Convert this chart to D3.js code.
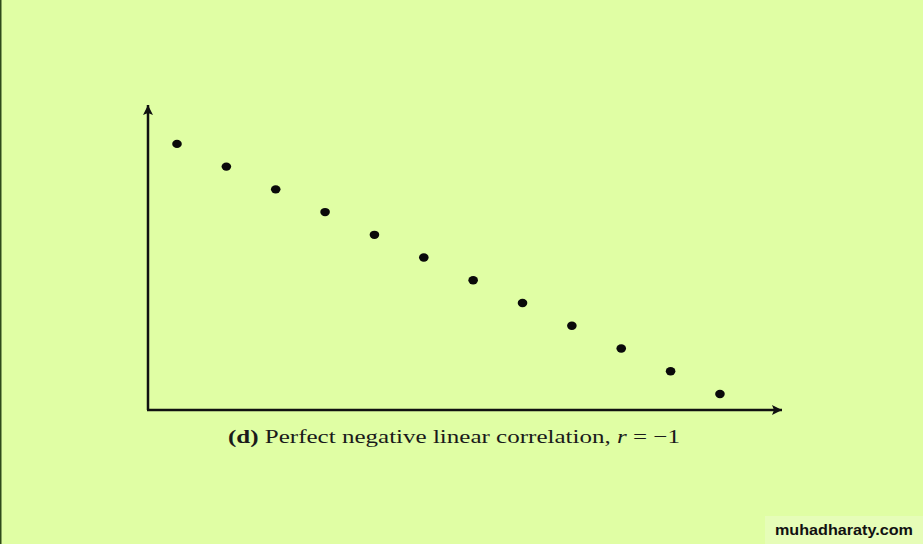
<!DOCTYPE html>
<html><head><meta charset="utf-8">
<script src="https://cdn.jsdelivr.net/npm/d3@7"></script>
<style>html,body{margin:0;padding:0;background:#e0fea4;overflow:hidden}</style>
</head><body>
<script>
const xValues = [1,2,3,4,5,6,7,8,9,10,11,12];
const yValues = [12,11,10,9,8,7,6,5,4,3,2,1];
const captionBold = "(d)";
const captionText = " Perfect negative linear correlation, ";
const watermark = "muhadharaty.com";

(function(){
const W = 923, H = 544;
const svg = d3.select("body").append("svg").attr("width", W).attr("height", H).style("display","block");
svg.append("rect").attr("width", W).attr("height", H).attr("fill", "#e0fea4");
svg.append("rect").attr("x",0).attr("y",0).attr("width",1.5).attr("height",H).attr("fill","#2f4a1a");

const pLeft = 148, pRight = 782, pBottom = 410, pTop = 105;
const x = d3.scaleLinear().domain([0.4125, 13.257]).range([pLeft, pRight]);
const y = d3.scaleLinear().domain([0.296, 13.71]).range([pBottom, pTop]);

const defs = svg.append("defs");
defs.append("marker").attr("id","arr").attr("viewBox","0 0 10 10").attr("refX",10).attr("refY",5)
  .attr("markerWidth",7).attr("markerHeight",4).attr("markerUnits","strokeWidth").attr("orient","auto")
  .append("path").attr("d","M0,0 L10,5 L0,10 L2,5 Z").attr("fill","#111");

svg.append("line").attr("x1", x.range()[0]).attr("y1", y.range()[0]).attr("x2", x.range()[0]).attr("y2", y.range()[1])
  .attr("stroke","#111").attr("stroke-width",2.5).attr("marker-end","url(#arr)");
svg.append("line").attr("x1", x.range()[0]-1).attr("y1", y.range()[0]).attr("x2", x.range()[1]).attr("y2", y.range()[0])
  .attr("stroke","#111").attr("stroke-width",2.5).attr("marker-end","url(#arr)");

svg.selectAll("ellipse.pt").data(xValues.map((v,i)=>({x:v,y:yValues[i]}))).enter()
  .append("ellipse").attr("class","pt")
  .attr("cx", d=>x(d.x)).attr("cy", d=>y(d.y)).attr("rx",4.8).attr("ry",4.2).attr("fill","#0a0a0a");

const cap = svg.append("text").attr("x", 228).attr("y", 443)
  .attr("font-family","'Liberation Serif', 'Times New Roman', serif").attr("font-size",19).attr("fill","#1a1a1a")
  .attr("textLength", 452).attr("lengthAdjust","spacingAndGlyphs");
cap.append("tspan").attr("font-weight","bold").text(captionBold);
cap.append("tspan").text(captionText);
cap.append("tspan").attr("font-style","italic").text("r");
cap.append("tspan").text(" = \u22121");

svg.append("rect").attr("x",765).attr("y",516).attr("width",158).attr("height",28).attr("fill","#e6fdb8");
svg.append("text").attr("x", 775).attr("y", 535).attr("font-family","'Liberation Sans', Arial, sans-serif")
  .attr("font-weight","bold").attr("font-size",15).attr("fill","#111")
  .attr("textLength", 138).attr("lengthAdjust","spacingAndGlyphs").text(watermark);
})();
</script>
</body></html>
